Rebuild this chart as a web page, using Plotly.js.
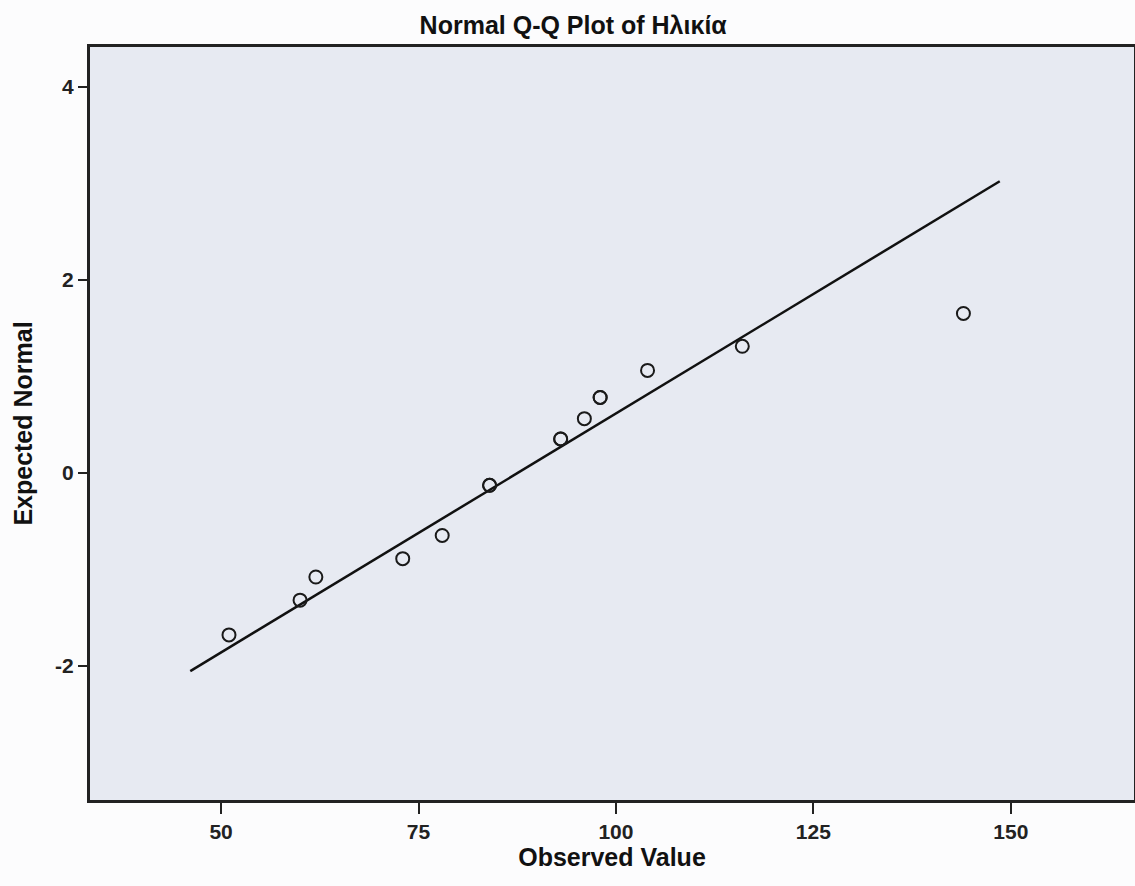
<!DOCTYPE html>
<html>
<head>
<meta charset="utf-8">
<script src="https://cdn.plot.ly/plotly-3.0.1.min.js"></script>
<style>
html,body{margin:0;padding:0;background:#fcfcfd;}
#chart{width:1135px;height:886px;}
</style>
</head>
<body>
<div id="chart"></div>
<script>
// Observed values (duplicates drawn twice, appear bolder)
const observed = [51, 60, 62, 73, 78, 84, 84, 93, 93, 96, 98, 98, 104, 116, 144];
const expectedNormal = [-1.68, -1.32, -1.08, -0.89, -0.65, -0.13, -0.13, 0.35, 0.35, 0.56, 0.78, 0.78, 1.06, 1.31, 1.65];
// Reference line parameters
const lineMean = 87.6;
const lineSD = 20.2;
const lineXRange = [46.1, 148.6];
const xTicks = [50, 75, 100, 125, 150];
const yTicks = [-2, 0, 2, 4];

const lineY = lineXRange.map(x => (x - lineMean) / lineSD);

const font = "'Liberation Sans', Arial, sans-serif";

const data = [
  {
    x: lineXRange, y: lineY, type: 'scatter', mode: 'lines',
    line: {color: '#111111', width: 2.5}, hoverinfo: 'skip', showlegend: false
  },
  {
    x: observed, y: expectedNormal, type: 'scatter', mode: 'markers',
    marker: {symbol: 'circle-open', size: 13, color: '#1a1a1a', line: {width: 2, color: '#1a1a1a'}},
    showlegend: false
  }
];

const layout = {
  width: 1135, height: 886,
  paper_bgcolor: '#fcfcfd',
  plot_bgcolor: '#e7eaf2',
  margin: {l: 90, r: 1, t: 47, b: 86},
  title: {
    text: '<b>Normal Q-Q Plot of Ηλικία</b>',
    font: {family: font, size: 25, color: '#111'},
    x: 0.505, xanchor: 'center', y: 0.971, yanchor: 'middle'
  },
  xaxis: {
    range: [33.4, 165.6],
    tickvals: xTicks, ticktext: xTicks.map(String),
    ticks: 'outside', ticklen: 11, tickwidth: 2, tickcolor: '#222',
    showgrid: false, zeroline: false,
    showline: true, linecolor: '#222', linewidth: 3, mirror: true,
    tickfont: {family: font, size: 21, color: '#222', weight: 'bold'},
    title: {text: '<b>Observed Value</b>', font: {family: font, size: 25, color: '#111'}, standoff: 0}
  },
  yaxis: {
    range: [-3.39, 4.41],
    tickvals: yTicks, ticktext: yTicks.map(String),
    ticks: 'outside', ticklen: 9, tickwidth: 2, tickcolor: '#222',
    showgrid: false, zeroline: false,
    showline: true, linecolor: '#222', linewidth: 3, mirror: true,
    tickfont: {family: font, size: 21, color: '#222', weight: 'bold'},
    title: {text: '<b>Expected Normal</b>', font: {family: font, size: 25, color: '#111'}, standoff: 16}
  }
};

Plotly.newPlot('chart', data, layout, {displayModeBar: false, staticPlot: true});
</script>
</body>
</html>
